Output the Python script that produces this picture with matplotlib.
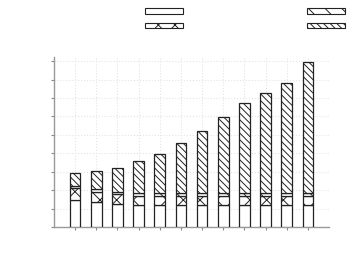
import numpy as np
import matplotlib
matplotlib.use("Agg")
import matplotlib.pyplot as plt
from matplotlib.patches import Patch

# stacked segment heights, one value per bar
positions = [1, 2, 3, 4, 5, 6, 7, 8, 9, 10, 11, 12]
base_part = [1.45, 1.37, 1.27, 1.17, 1.17, 1.17, 1.17, 1.17, 1.17, 1.17, 1.17, 1.17]
cross_part = [0.65, 0.55, 0.52, 0.51, 0.51, 0.51, 0.51, 0.51, 0.51, 0.51, 0.51, 0.51]
thin_part = [0.12, 0.12, 0.11, 0.15, 0.15, 0.15, 0.15, 0.15, 0.15, 0.15, 0.15, 0.15]
top_part = [0.69, 0.98, 1.30, 1.73, 2.15, 2.71, 3.39, 4.15, 4.88, 5.42, 5.96, 7.10]
y_ticks = [0, 1, 2, 3, 4, 5, 6, 7, 8, 9]

plt.rcParams['hatch.linewidth'] = 0.7
plt.rcParams['hatch.color'] = '#222222'

fig = plt.figure(figsize=(3.54, 2.75), dpi=100)
ax = fig.add_axes([54 / 354, 48 / 275, 275 / 354, 169.6 / 275])

segments = [
    (base_part, ''),
    (cross_part, 'xx'),
    (thin_part, '\\\\'),
    (top_part, '\\\\\\\\\\'),
]
bottom = np.zeros(len(positions))
for vals, hatch in segments:
    ax.bar(positions, vals, width=0.5, bottom=bottom, color='white',
           edgecolor='#222222', linewidth=0.9, hatch=hatch, zorder=3)
    bottom += np.array(vals)

ax.set_xlim(0, 13)
ax.set_ylim(0, 9.2)
ax.set_xticks(positions)
ax.set_yticks(y_ticks)
ax.set_xticklabels([])
ax.set_yticklabels([])
ax.tick_params(axis='both', length=2.5, width=0.8, color='#888888')
ax.grid(True, linestyle=':', color='#e4e4e4', linewidth=0.8, zorder=0)
for side in ['top', 'right']:
    ax.spines[side].set_visible(False)
for side in ['left', 'bottom']:
    ax.spines[side].set_color('#999999')
    ax.spines[side].set_linewidth(1.0)

handles = [Patch(facecolor='white', edgecolor='#222222', linewidth=0.8, hatch=h)
           for _, h in segments]
fig.legend(handles, [' ', ' ', ' ', ' '], ncol=2, frameon=False,
           loc='upper left', bbox_to_anchor=(140 / 354, 1.0 - 1.5 / 275),
           fontsize=6, handlelength=4.6, handleheight=0.7,
           labelspacing=0.7, columnspacing=14.2, handletextpad=0.3,
           borderaxespad=0.0, borderpad=0.6)

fig.savefig('out.png', dpi=100)
